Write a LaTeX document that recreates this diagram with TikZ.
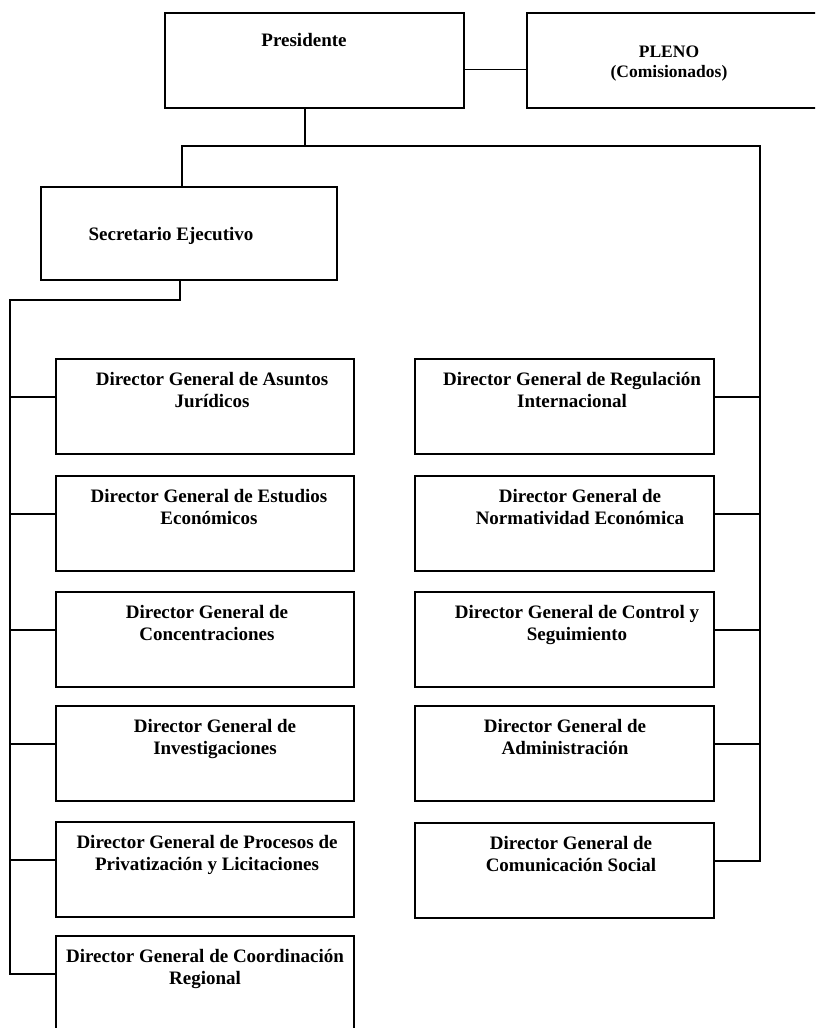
\documentclass[tikz,border=0pt]{standalone}
\usepackage{fontspec}
\setmainfont{Liberation Serif}
\begin{document}
\begin{tikzpicture}[x=1pt,y=-1pt,
  box/.style={draw, line width=1.8pt, rectangle, inner sep=0pt, anchor=north west, minimum height=95pt},
  lbox/.style={box, minimum width=298pt},
  rbox/.style={box, minimum width=299pt},
  txt/.style={font=\fontsize{19}{22}\selectfont\bfseries, align=center, inner sep=0pt, anchor=north},
  smalltxt/.style={txt, font=\fontsize{17.5}{20}\selectfont\bfseries},
  conn/.style={line width=1.5pt}]
\useasboundingbox (0,0) rectangle (815,1028);
\clip (0,0) rectangle (815,1028);
% top level
\node[box, minimum width=299pt] (pres) at (164,12) {};
\node[box, minimum width=304pt] (pleno) at (526,12) {};
\node[box, minimum width=296pt, minimum height=93pt] (sec) at (40,186) {};
\node[txt] (prest) at (304,30.6) {\strut Presidente};
\node[smalltxt] (plenot) at (669,43) {\strut PLENO\\(Comisionados)};
\node[txt] (sect) at (171,224.6) {\strut Secretario Ejecutivo};
% left column
\node[lbox] (b1) at (55,358) {};
\node[lbox] (b2) at (55,475) {};
\node[lbox] (b3) at (55,591) {};
\node[lbox] (b4) at (55,705) {};
\node[lbox] (b5) at (55,821) {};
\node[lbox] (b6) at (55,935) {};
\node[txt] (t1) at (212,369.6) {\strut Director General de Asuntos\\Jurídicos};
\node[txt] (t2) at (209,486.6) {\strut Director General de Estudios\\Económicos};
\node[txt] (t3) at (207,602.6) {\strut Director General de\\Concentraciones};
\node[txt] (t4) at (215,716.6) {\strut Director General de\\Investigaciones};
\node[txt] (t5) at (207,832.6) {\strut Director General de Procesos de\\Privatización y Licitaciones};
\node[txt] (t6) at (205,946.6) {\strut Director General de Coordinación\\Regional};
% right column
\node[rbox] (r1) at (414,358) {};
\node[rbox] (r2) at (414,475) {};
\node[rbox] (r3) at (414,591) {};
\node[rbox] (r4) at (414,705) {};
\node[rbox] (r5) at (414,822) {};
\node[txt] (u1) at (572,369.6) {\strut Director General de Regulación\\Internacional};
\node[txt] (u2) at (580,486.6) {\strut Director General de\\Normatividad Económica};
\node[txt] (u3) at (577,602.6) {\strut Director General de Control y\\Seguimiento};
\node[txt] (u4) at (565,716.6) {\strut Director General de\\Administración};
\node[txt] (u5) at (571,833.6) {\strut Director General de\\Comunicación Social};
% connector points
\foreach \n in {b1,b2,b3,b4,b5,b6} {\path ([yshift=9.5pt]\n.west) coordinate (\n c);}
\foreach \n in {r1,r2,r3,r4,r5} {\path ([yshift=9.5pt]\n.east) coordinate (\n c);}
\coordinate (pj) at (305,146);
\coordinate (tl) at (182,146);
\coordinate (tr) at (760,146);
\coordinate (sd) at (180,300);
\coordinate (lb) at (10,300);
% connectors
\draw[conn] ([yshift=-9pt]pres.east) -- ([yshift=-9pt]pleno.west);
\draw[conn, line width=2pt] (pres.south -| pj) -- (pj);
\draw[conn] (sec.north -| tl) -- (tl) -- (tr) -- (tr |- r5c) -- (r5c);
\foreach \n in {r1,r2,r3,r4} {\draw[conn] (\n c) -- (tr |- \n c);}
\draw[conn] (sec.south -| sd) -- (sd) -- (lb) -- (lb |- b6c) -- (b6c);
\foreach \n in {b1,b2,b3,b4,b5} {\draw[conn] (lb |- \n c) -- (\n c);}
\end{tikzpicture}
\end{document}
